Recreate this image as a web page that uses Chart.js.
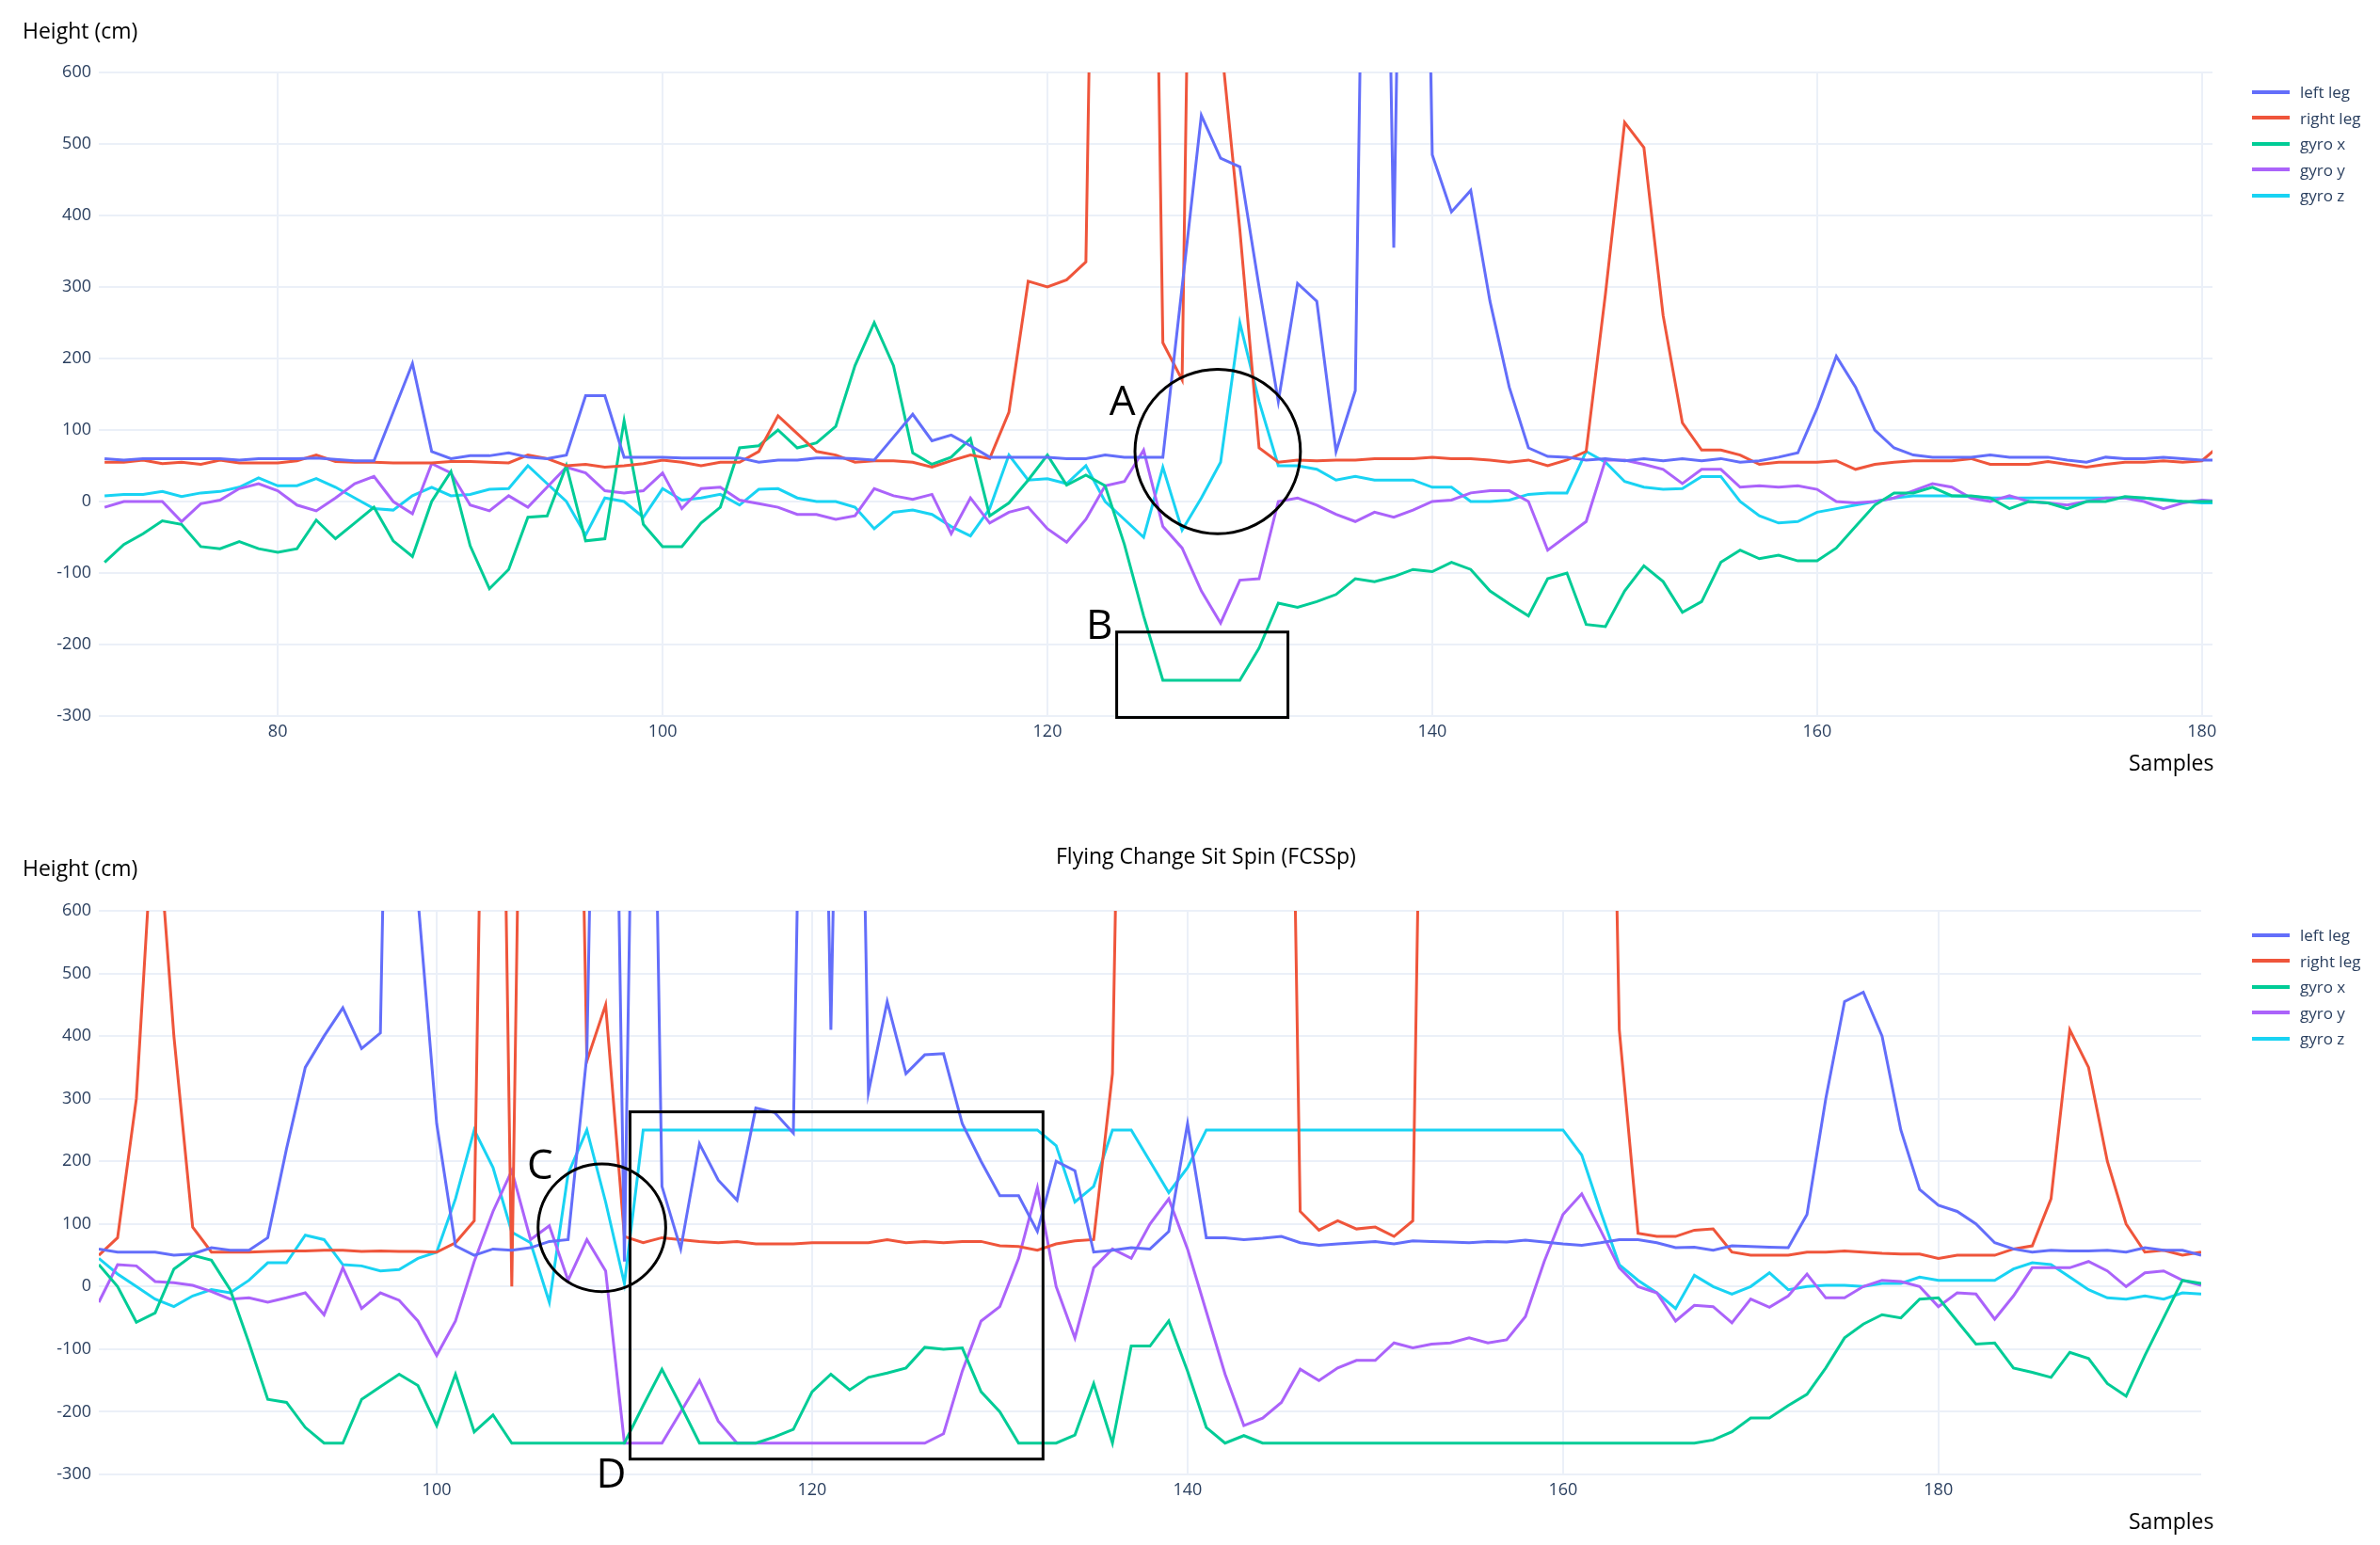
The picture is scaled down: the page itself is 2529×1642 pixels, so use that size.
<!DOCTYPE html>
<html><head><meta charset="utf-8">
<script src="https://cdn.jsdelivr.net/npm/chart.js@4.4.1/dist/chart.umd.min.js"></script>
<style>
body{margin:0;background:#fff;width:2529px;height:1642px;position:relative;overflow:hidden;font-family:"Open Sans",sans-serif}
canvas{position:absolute;left:0}
.t{position:absolute;color:#000;white-space:nowrap}
.lg{position:absolute;left:2393px;font-size:17px;color:#2a3f5f}
.lg div{height:27.5px;display:flex;align-items:center}
.lg span{display:inline-block;width:40px;height:4px;margin-right:11px}
</style></head><body>
<canvas id="c1" width="2529" height="850" style="top:0"></canvas>
<canvas id="c2" width="2529" height="792" style="top:850px"></canvas>
<div class="t" style="left:24px;top:16px;font-size:23px">Height (cm)</div>
<div class="t" style="left:2262px;top:794px;font-size:23px">Samples</div>
<div class="t" style="left:24px;top:906px;font-size:23px">Height (cm)</div>
<div class="t" style="left:1122px;top:893px;font-size:23px">Flying Change Sit Spin (FCSSp)</div>
<div class="t" style="left:2262px;top:1600px;font-size:23px">Samples</div>
<div class="lg" id="lg1" style="top:84px"></div>
<div class="lg" id="lg2" style="top:980px"></div>
<script>
const seriesNames = ["left leg","right leg","gyro x","gyro y","gyro z"];
const seriesColors = ["#636efa","#EF553B","#00cc96","#ab63fa","#19d3f3"];
const yTicks = [-300,-200,-100,0,100,200,300,400,500,600];
const xTicks = [80,100,120,140,160,180];

const topStart = 71;
const topLeft = [60,58,60,60,60,60,60,58,60,60,60,61,59,57,
57,125,193,70,60,64,64,68,62,60,65,148,148,62,62,62,
61,61,61,61,55,58,58,61,61,60,
58,90,122,85,93,78,62,62,62,62,
60,60,65,62,62,62,300,540,480,468,
300,140,305,280,70,155,2000,355,2000,485,
405,435,280,160,75,63,62,58,60,57,
60,57,60,57,60,55,57,62,68,130,
203,160,100,75,65,62,62,62,65,62,
62,62,58,55,62,60,60,62,60,58,58];
const topRight = [55,55,58,53,55,52,58,54,54,54,
57,65,56,55,55,54,54,54,56,56,
55,54,65,60,50,52,48,50,53,58,
55,50,55,55,70,120,95,70,65,55,
57,57,55,48,57,65,60,125,308,300,
310,335,2000,2000,2000,222,170,2000,650,380,
75,55,58,57,58,58,60,60,60,62,
60,60,58,55,58,50,58,70,290,530,
495,260,110,72,72,65,52,55,55,55,
57,45,52,55,57,57,57,60,52,52,
52,56,52,48,52,55,55,57,55,57,80];
const topGx = [-85,-60,-45,-27,-32,-63,-66,-56,-66,-71,
-66,-26,-52,-30,-8,-55,-77,0,42,-62,
-122,-95,-22,-20,50,-55,-52,113,-32,-63,
-63,-30,-8,75,78,100,75,82,105,190,
250,190,68,52,62,88,-20,-2,30,65,
23,37,22,-60,-160,-250,-250,-250,-250,-250,
-205,-142,-148,-140,-130,-108,-112,-105,-95,-98,
-85,-95,-125,-143,-160,-108,-100,-172,-175,-125,
-90,-112,-155,-140,-85,-68,-80,-75,-83,-83,
-65,-35,-5,12,12,20,8,8,5,-10,
0,-2,-10,0,0,7,5,2,0,0,0];
const topGy = [-8,0,0,0,-28,-3,2,18,25,15,
-5,-13,5,25,35,0,-17,53,40,-5,
-13,8,-8,20,48,40,15,12,15,40,
-10,18,20,2,-3,-8,-18,-18,-25,-20,
18,8,3,10,-45,5,-30,-15,-8,-38,
-57,-25,22,28,72,-35,-65,-125,-170,-110,
-108,0,5,-5,-18,-28,-15,-22,-12,0,
2,12,15,15,0,-68,-48,-28,58,58,
52,45,25,45,45,20,22,20,22,17,
0,-2,0,5,15,25,20,5,0,8,
0,-2,-5,0,5,5,0,-10,-2,2,0];
const topGz = [8,10,10,14,7,12,14,20,33,22,
22,32,20,5,-10,-12,8,20,8,10,
17,18,50,25,0,-47,5,0,-22,18,
2,5,10,-5,17,18,5,0,0,-8,
-38,-15,-12,-18,-35,-48,-10,65,30,32,
25,50,0,-25,-50,48,-40,5,55,250,
140,50,50,45,30,35,30,30,30,20,
20,0,0,2,10,12,12,70,55,28,
20,17,18,35,35,0,-20,-30,-28,-15,
-10,-5,0,5,8,8,8,7,5,5,
5,5,5,5,5,5,5,3,0,-2,-2];

const botStart = 82;
const botLeft = [60,55,55,55,50,52,62,58,58,78,
220,350,400,445,380,405,2000,620,260,65,
50,60,58,62,72,75,370,2000,40,2000,
160,60,228,170,138,285,278,245,2000,410,
2000,310,455,340,370,372,260,200,145,145,
88,200,185,55,58,62,60,88,260,78,
78,75,77,80,70,66,68,70,72,68,
73,72,71,70,72,71,74,71,68,66,
70,75,75,70,62,63,58,65,64,63,
62,115,300,455,470,400,250,155,130,120,
100,70,60,55,58,57,57,58,55,62,
58,58,50];
const botRight = [50,78,300,800,400,95,55,55,55,56,
57,57,58,58,56,57,56,56,55,70,
105,2000,0,2000,2000,2000,360,450,80,70,
78,75,72,70,72,68,68,68,70,70,
70,70,75,70,72,70,72,72,65,64,
58,68,73,75,340,2000,2000,2000,2000,2000,
2000,2000,2000,2000,120,90,105,92,95,80,
105,2000,2000,2000,2000,2000,2000,2000,2000,2000,
2000,410,85,80,80,90,92,55,50,50,
50,55,55,57,55,53,52,52,45,50,
50,50,60,65,140,410,350,200,100,55,
58,50,55];
const botGx = [35,0,-57,-42,28,50,42,-5,-90,-180,
-185,-225,-250,-250,-180,-160,-140,-158,-222,-140,
-232,-205,-250,-250,-250,-250,-250,-250,-250,-190,
-132,-190,-250,-250,-250,-250,-240,-228,-168,-140,
-165,-145,-138,-130,-97,-100,-98,-168,-200,-250,
-250,-250,-237,-155,-250,-95,-95,-55,-135,-225,
-250,-238,-250,-250,-250,-250,-250,-250,-250,-250,
-250,-250,-250,-250,-250,-250,-250,-250,-250,-250,
-250,-250,-250,-250,-250,-250,-245,-232,-210,-210,
-190,-172,-130,-82,-60,-45,-50,-20,-18,-55,
-92,-90,-130,-137,-145,-105,-115,-155,-175,-110,
-50,10,5];
const botGy = [-25,35,33,8,6,2,-8,-20,-18,-25,
-18,-10,-45,30,-35,-10,-22,-55,-110,-55,
40,120,185,75,97,10,75,25,-250,-250,
-250,-200,-150,-215,-250,-250,-250,-250,-250,-250,
-250,-250,-250,-250,-250,-235,-135,-55,-32,45,
158,0,-82,30,60,45,100,140,60,-40,
-140,-222,-210,-185,-132,-150,-130,-118,-118,-90,
-98,-92,-90,-82,-90,-85,-48,40,115,148,
90,30,0,-10,-55,-30,-32,-58,-20,-33,
-15,20,-18,-18,0,10,8,0,-32,-10,
-12,-52,-15,30,30,30,40,25,0,22,
25,10,2];
const botGz = [45,20,0,-20,-32,-15,-5,-10,10,38,
38,82,75,35,33,25,27,45,55,140,
250,190,87,70,-25,180,250,135,5,250,
250,250,250,250,250,250,250,250,250,250,
250,250,250,250,250,250,250,250,250,250,
250,225,135,160,250,250,200,150,190,250,
250,250,250,250,250,250,250,250,250,250,
250,250,250,250,250,250,250,250,250,210,
120,35,10,-10,-35,18,0,-12,0,22,
-5,0,2,2,0,5,5,15,10,10,
10,10,28,38,35,15,-5,-18,-20,-15,
-20,-10,-12];

function legend(id){
  const el=document.getElementById(id);
  seriesNames.forEach((n,i)=>{el.innerHTML+=`<div><span style="background:${seriesColors[i]}"></span>${n}</div>`;});
}
legend('lg1');legend('lg2');

function toXY(start, arr){return arr.map((v,i)=>({x:start+i,y:v}));}

function annot(items){
  return {id:'annot',afterDraw(chart){
    const ctx=chart.ctx, xs=chart.scales.x, ys=chart.scales.y;
    ctx.save();ctx.strokeStyle='#000';ctx.lineWidth=3;ctx.fillStyle='#000';
    items.forEach(it=>{
      if(it.type==='ellipse'){
        const cx=xs.getPixelForValue(it.x), cy=ys.getPixelForValue(it.y);
        const rx=Math.abs(xs.getPixelForValue(it.x+it.rx)-cx), ry=Math.abs(ys.getPixelForValue(it.y+it.ry)-cy);
        ctx.beginPath();ctx.ellipse(cx,cy,rx,ry,0,0,Math.PI*2);ctx.stroke();
      } else if(it.type==='rect'){
        const x1=xs.getPixelForValue(it.x1),x2=xs.getPixelForValue(it.x2),y1=ys.getPixelForValue(it.y1),y2=ys.getPixelForValue(it.y2);
        ctx.strokeRect(x1,y1,x2-x1,y2-y1);
      } else {
        ctx.font='44px "Open Sans"';ctx.textAlign='center';ctx.textBaseline='middle';
        ctx.fillText(it.text,xs.getPixelForValue(it.x),ys.getPixelForValue(it.y));
      }
    });
    ctx.restore();
  }};
}

function make(id,start,arrs,xmin,xmax,pad,items){
  const datasets=arrs.map((a,i)=>({label:seriesNames[i],data:toXY(start,a),borderColor:seriesColors[i],backgroundColor:seriesColors[i],borderWidth:3,pointRadius:0,tension:0}));
  new Chart(document.getElementById(id),{
    type:'line',data:{datasets},
    plugins:[annot(items)],
    options:{responsive:false,animation:false,devicePixelRatio:1,
      layout:{padding:pad},
      plugins:{legend:{display:false},tooltip:{enabled:false}},
      scales:{
        x:{type:'linear',min:xmin,max:xmax,
          afterBuildTicks:s=>{s.ticks=xTicks.filter(v=>v>=xmin&&v<=xmax).map(v=>({value:v}));},
          afterFit:s=>{s.height=40;},
          ticks:{color:'#2a3f5f',font:{size:18,family:'Open Sans'},padding:6,maxRotation:0,autoSkip:false},
          grid:{color:'#ebf0f8',lineWidth:2,drawTicks:false},border:{display:false}},
        y:{min:-300,max:600,
          afterBuildTicks:s=>{s.ticks=yTicks.map(v=>({value:v}));},
          afterFit:s=>{s.width=105;},
          ticks:{color:'#2a3f5f',font:{size:18,family:'Open Sans'},padding:8},
          grid:{color:'#ebf0f8',lineWidth:2,drawTicks:false},border:{display:false}}
      }}
  });
}

make('c1',topStart,[topLeft,topRight,topGx,topGy,topGz],70.7,180.55,{left:0,top:77,right:178,bottom:49},[
  {type:'ellipse',x:128.85,y:70,rx:4.3,ry:115},
  {type:'text',text:'A',x:123.9,y:138},
  {type:'rect',x1:123.6,x2:132.5,y1:-182.5,y2:-302},
  {type:'text',text:'B',x:122.7,y:-176}
]);
make('c2',botStart,[botLeft,botRight,botGx,botGy,botGz],82,194,{left:0,top:118,right:190,bottom:35},[
  {type:'ellipse',x:108.8,y:94,rx:3.4,ry:102},
  {type:'text',text:'C',x:105.5,y:191},
  {type:'rect',x1:110.3,x2:132.3,y1:279,y2:-275.5},
  {type:'text',text:'D',x:109.3,y:-302}
]);
</script>
</body></html>
